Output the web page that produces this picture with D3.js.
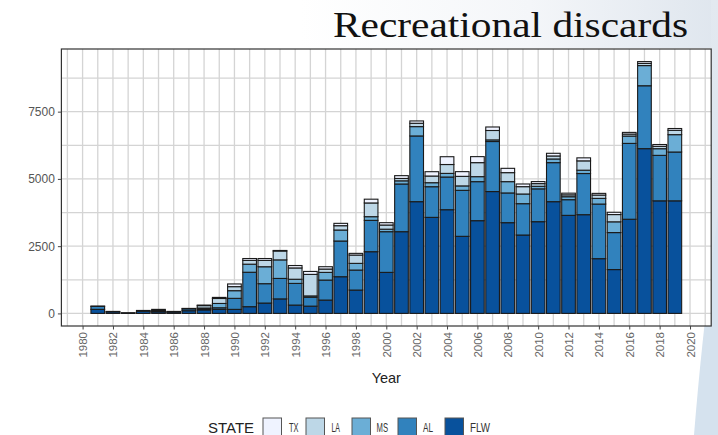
<!DOCTYPE html>
<html>
<head>
<meta charset="utf-8">
<script src="https://cdn.jsdelivr.net/npm/d3@7"></script>
<style>
  html, body { margin: 0; padding: 0; background: #fff; }
  svg { display: block; }
</style>
</head>
<body>
<svg id="chart" width="718" height="435"></svg>
<script>
// Recreational discards by state, stacked per year
const years = [1981,1982,1983,1984,1985,1986,1987,1988,1989,1990,1991,1992,1993,1994,1995,1996,1997,1998,1999,2000,
               2001,2002,2003,2004,2005,2006,2007,2008,2009,2010,2011,2012,2013,2014,2015,2016,2017,2018,2019];

const states = ["TX", "LA", "MS", "AL", "FLW"];

const TX  = [0,0,10,0,0,0,0,20,40,100,70,70,20,90,110,87,87,62,140,87,
             105,87,161,290,175,223,130,160,99,75,99,62,112,62,85,62,68,68,68];
const LA  = [0,0,0,0,40,0,16,90,185,150,140,235,330,420,800,124,161,310,510,155,
             87,124,248,330,355,521,350,335,273,100,112,70,347,124,270,74,80,87,160];
const MS  = [13,0,0,0,20,0,0,30,160,285,300,630,690,155,50,285,409,248,137,93,
             118,347,149,135,165,186,60,420,360,95,136,110,124,211,400,273,750,248,645];
const AL  = [110,14,0,30,30,24,70,40,60,410,1280,720,760,805,330,744,1327,744,1165,1513,
             1773,2443,1140,1215,1710,1451,1860,1105,1165,1220,1451,583,1530,2030,1375,2820,2338,1690,1815];
const FLW = [150,60,15,80,60,50,100,130,150,150,250,385,540,310,270,496,1364,868,2294,1525,
             3038,4154,3570,3855,2865,3447,4530,3373,2914,3410,4154,3645,3670,2035,1630,3500,6125,4185,4185];

const xTicks = d3.range(1980, 2021, 2);
const yTicks = [0, 2500, 5000, 7500];

const palette = { TX: "#eff3ff", LA: "#bdd7e7", MS: "#6baed6", AL: "#3182bd", FLW: "#08519c" };

const rows = years.map((y, i) => ({ Year: y, TX: TX[i], LA: LA[i], MS: MS[i], AL: AL[i], FLW: FLW[i] }));

const svg = d3.select("#chart");

// slide backdrop: soft blue wash at the top right and the swoosh down the right edge
const defs = svg.append("defs");
const topWash = defs.append("linearGradient").attr("id", "topWash").attr("x1", "0").attr("x2", "1").attr("y1", "0").attr("y2", "0");
topWash.append("stop").attr("offset", "0").attr("stop-color", "#ffffff");
topWash.append("stop").attr("offset", "0.55").attr("stop-color", "#f4f6f9");
topWash.append("stop").attr("offset", "1").attr("stop-color", "#dfe6ee");
svg.append("rect").attr("x", 300).attr("y", 0).attr("width", 418).attr("height", 48).attr("fill", "url(#topWash)");

const sideWash = defs.append("linearGradient").attr("id", "sideWash").attr("x1", "0").attr("x2", "0").attr("y1", "0").attr("y2", "1");
sideWash.append("stop").attr("offset", "0").attr("stop-color", "#e3e9f0");
sideWash.append("stop").attr("offset", "1").attr("stop-color", "#d3e0ec");
svg.append("rect").attr("x", 711).attr("y", 0).attr("width", 7).attr("height", 435).attr("fill", "url(#sideWash)");
svg.append("path")
  .attr("d", "M718,215 C708,290 700,360 694,435 L718,435 Z")
  .attr("fill", "#d5e2ee");

// title
svg.append("text")
  .attr("x", 333).attr("y", 37)
  .attr("font-family", "'Liberation Serif', 'DejaVu Serif', serif")
  .attr("font-size", 35)
  .attr("fill", "#111")
  .attr("textLength", 355)
  .attr("lengthAdjust", "spacingAndGlyphs")
  .text("Recreational discards");

// plot panel
const panel = { left: 61.4, right: 711.2, top: 49, bottom: 326 };

const stack = d3.stack().keys(["FLW", "AL", "MS", "LA", "TX"]);
const series = stack(rows);
const maxTotal = d3.max(rows, d => states.reduce((s, k) => s + d[k], 0));

const barWidth = 0.9;
const xLo = d3.min(years) - barWidth / 2, xHi = d3.max(years) + barWidth / 2;
const xPad = (xHi - xLo) * 0.05;
const x = d3.scaleLinear().domain([xLo - xPad, xHi + xPad]).range([panel.left, panel.right]);
const yPad = maxTotal * 0.05;
const y = d3.scaleLinear().domain([-yPad, maxTotal + yPad]).range([panel.bottom, panel.top]);

svg.append("rect")
  .attr("x", panel.left).attr("y", panel.top)
  .attr("width", panel.right - panel.left).attr("height", panel.bottom - panel.top)
  .attr("fill", "#fff");

const grid = svg.append("g").attr("stroke", "#d4d4d4").attr("stroke-width", 1.3);
d3.range(1979, 2022).forEach(v => {
  grid.append("line").attr("x1", x(v)).attr("x2", x(v)).attr("y1", panel.top).attr("y2", panel.bottom);
});
d3.range(0, 9000, 1250).forEach(v => {
  grid.append("line").attr("x1", panel.left).attr("x2", panel.right).attr("y1", y(v)).attr("y2", y(v));
});

// stacked bars, FLW at the base
const bw = x(barWidth) - x(0);
svg.append("g")
  .selectAll("g")
  .data(series)
  .join("g")
  .attr("fill", d => palette[d.key])
  .selectAll("rect")
  .data(d => d.filter(s => s[1] - s[0] > 0))
  .join("rect")
  .attr("x", d => x(d.data.Year) - bw / 2)
  .attr("width", bw)
  .attr("y", d => y(d[1]))
  .attr("height", d => y(d[0]) - y(d[1]))
  .attr("stroke", "#1a1a1a")
  .attr("stroke-width", 1.1);

svg.append("rect")
  .attr("x", panel.left).attr("y", panel.top)
  .attr("width", panel.right - panel.left).attr("height", panel.bottom - panel.top)
  .attr("fill", "none").attr("stroke", "#333").attr("stroke-width", 1.2);

// axes
const yAxis = svg.append("g")
  .attr("transform", `translate(${panel.left},0)`)
  .call(d3.axisLeft(y).tickValues(yTicks).tickSize(3.5).tickPadding(3).tickFormat(d3.format("d")));
yAxis.select(".domain").remove();
yAxis.selectAll("line").attr("stroke", "#444");
yAxis.selectAll("text").attr("font-family", "'Liberation Sans', Arial, sans-serif").attr("font-size", 12).attr("fill", "#555");

const xAxis = svg.append("g")
  .attr("transform", `translate(0,${panel.bottom})`)
  .call(d3.axisBottom(x).tickValues(xTicks).tickSize(3.5).tickFormat(d3.format("d")));
xAxis.select(".domain").remove();
xAxis.selectAll("line").attr("stroke", "#444");
xAxis.selectAll("text")
  .attr("font-family", "'Liberation Sans', Arial, sans-serif").attr("font-size", 11.5).attr("fill", "#666")
  .attr("transform", "rotate(-90)")
  .attr("text-anchor", "end")
  .attr("x", -6).attr("y", 0).attr("dy", "0.35em");

svg.append("text")
  .attr("x", (panel.left + panel.right) / 2).attr("y", 383)
  .attr("text-anchor", "middle")
  .attr("font-family", "'Liberation Sans', Arial, sans-serif").attr("font-size", 14.5).attr("fill", "#222")
  .text("Year");

// legend
const legend = svg.append("g").attr("font-family", "'Liberation Sans', Arial, sans-serif");
legend.append("text").attr("x", 208).attr("y", 432.5).attr("font-size", 15).attr("fill", "#222").text("STATE");
const keyX = [263, 306, 352, 398, 445];
const labelX = [289, 331.5, 376.5, 423, 470];
const labelW = [9.5, 8.5, 11.5, 10, 20];
states.forEach((s, i) => {
  legend.append("rect")
    .attr("x", keyX[i]).attr("y", 418).attr("width", 18.5).attr("height", 18)
    .attr("fill", palette[s]).attr("stroke", "#555").attr("stroke-width", 1);
  legend.append("text")
    .attr("x", labelX[i]).attr("y", 431.5)
    .attr("font-size", 12.5).attr("fill", "#333")
    .attr("textLength", labelW[i])
    .attr("lengthAdjust", "spacingAndGlyphs")
    .text(s);
});
</script>
</body>
</html>
